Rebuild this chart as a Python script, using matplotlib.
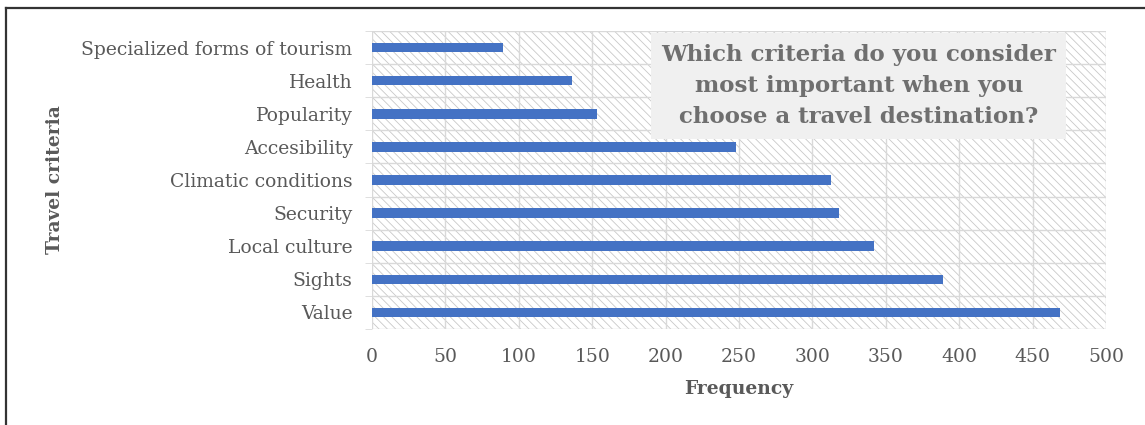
import matplotlib.pyplot as plt
from matplotlib.patches import Rectangle
from matplotlib.lines import Line2D

criterios = ['Value', 'Sights', 'Local culture', 'Security', 'Climatic conditions',
             'Accesibility', 'Popularity', 'Health', 'Specialized forms of tourism']
frecuencias = [469, 389, 342, 318, 313, 248, 153, 136, 89]
ticks_x = [0, 50, 100, 150, 200, 250, 300, 350, 400, 450, 500]

plt.rcParams['font.family'] = ['DejaVu Serif']
plt.rcParams['hatch.linewidth'] = 0.6

fig = plt.figure(figsize=(11.45, 4.25), dpi=100)
ax = fig.add_axes([372/1145, 1 - 329/425, (1106-372)/1145, (329-31)/425])

# fondo rayado
fondo = Rectangle((0, 0), 1, 1, transform=ax.transAxes, facecolor='white',
                  edgecolor='#c8c8c8', hatch='\\\\\\\\', linewidth=0, zorder=0)
ax.add_patch(fondo)

pos = range(len(criterios))
ax.barh(pos, frecuencias, height=0.29, color='#4472c4', zorder=3)

ax.set_xlim(0, 500)
ax.set_ylim(-0.5, len(criterios) - 0.5)
ax.set_xticks(ticks_x)
ax.set_xticklabels([str(t) for t in ticks_x], fontsize=13.5, color='#595959')
ax.set_yticks(list(pos))
ax.set_yticklabels(criterios, fontsize=13.5, color='#595959')
ax.tick_params(axis='x', length=0, pad=14)
ax.tick_params(axis='y', length=0, pad=14)

# lineas de la grilla
for t in ticks_x:
    ax.axvline(t, color='#d9d9d9', lw=1, zorder=1)
ax.set_yticks([i - 0.5 for i in range(len(criterios) + 1)], minor=True)
ax.tick_params(axis='y', which='minor', length=5, color='#d9d9d9')
for i in range(len(criterios) + 1):
    ax.axhline(i - 0.5, color='#d9d9d9', lw=1, zorder=1)
for s in ax.spines.values():
    s.set_visible(False)

ax.set_xlabel('Frequency', fontsize=13.5, fontweight='bold', color='#595959', labelpad=10)
ax.set_ylabel('Travel criteria', fontsize=13.5, fontweight='bold', color='#595959')
ax.yaxis.set_label_coords(-0.42, 0.5)

ax.text(0.663, 0.815, 'Which criteria do you consider\nmost important when you\nchoose a travel destination?',
        transform=ax.transAxes, ha='center', va='center', fontsize=16.5, fontweight='bold',
        color='#6f6f6f', linespacing=1.55, zorder=5,
        bbox=dict(facecolor='#f0f0f0', edgecolor='none', boxstyle='square,pad=0.45'))

# borde exterior
fig.add_artist(Line2D([6/1145, 6/1145], [0, 1 - 8/425], color='#333333', lw=1.6))
fig.add_artist(Line2D([6/1145, 1], [1 - 8/425, 1 - 8/425], color='#333333', lw=1.6))

fig.savefig('out.png', dpi=100)
